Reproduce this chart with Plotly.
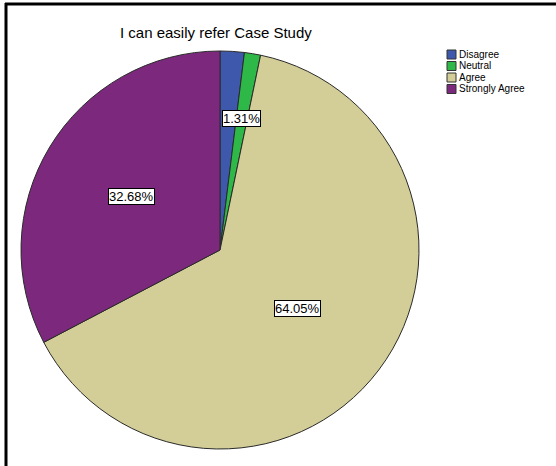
import math
import plotly.graph_objects as go

categories = ["Disagree", "Neutral", "Agree", "Strongly Agree"]
percentages = [1.96, 1.31, 64.05, 32.68]
colors = ["#3E58AC", "#2EB848", "#D3CE97", "#7C287D"]
show_label = [False, True, True, True]
label_radius = [0.67, 0.67, 0.49, 0.52]  # fraction of pie radius (style)

W, H = 556, 466
CX, CY, R = 220, 250, 199

fig = go.Figure(go.Pie(
    labels=categories,
    values=percentages,
    marker=dict(colors=colors, line=dict(color="#2a2a2a", width=1)),
    sort=False,
    direction="clockwise",
    rotation=0,
    textinfo="none",
    hoverinfo="label+percent",
    showlegend=False,
    domain=dict(x=[(CX - R) / W, (CX + R) / W], y=[1 - (CY + R) / H, 1 - (CY - R) / H]),
))

annotations = []
total = sum(percentages)
cum = 0.0
for cat, v, s, rf in zip(categories, percentages, show_label, label_radius):
    mid = (cum + v / 2) / total * 2 * math.pi
    cum += v
    if not s:
        continue
    px = CX + rf * R * math.sin(mid)
    py = CY - rf * R * math.cos(mid)
    annotations.append(dict(
        x=px / W, y=1 - py / H, xref="paper", yref="paper",
        xanchor="center", yanchor="middle",
        text=f"{v:.2f}%", showarrow=False,
        font=dict(family="Liberation Sans, Arial", size=13, color="black"),
        bgcolor="white", bordercolor="black", borderwidth=1, borderpad=0,
    ))

# title
annotations.append(dict(
    x=216 / W, y=1 - 33 / H, xref="paper", yref="paper",
    xanchor="center", yanchor="middle",
    text="I can easily refer Case Study", showarrow=False,
    font=dict(family="Liberation Sans, Arial", size=15, color="black"),
))

shapes = []
# legend drawn manually for compact spacing
LX, LY, LSTEP, SW = 447, 50, 11.5, 9
for i, (cat, col) in enumerate(zip(categories, colors)):
    y0 = LY + i * LSTEP
    shapes.append(dict(type="rect", xref="paper", yref="paper",
                       x0=LX / W, x1=(LX + SW) / W,
                       y0=1 - (y0 + SW) / H, y1=1 - y0 / H,
                       fillcolor=col, line=dict(color="#333333", width=1)))
    annotations.append(dict(
        x=(LX + SW + 1) / W, y=1 - (y0 + SW / 2) / H, xref="paper", yref="paper",
        xanchor="left", yanchor="middle", text=cat, showarrow=False,
        font=dict(family="Liberation Sans, Arial", size=10, color="black"),
    ))

# frame lines (top and left)
shapes.append(dict(type="line", xref="paper", yref="paper",
                   x0=5 / W, x1=1, y0=1 - 4 / H, y1=1 - 4 / H,
                   line=dict(color="black", width=3)))
shapes.append(dict(type="line", xref="paper", yref="paper",
                   x0=6 / W, x1=6 / W, y0=1 - 3 / H, y1=0,
                   line=dict(color="black", width=3)))

fig.update_layout(
    width=W, height=H,
    margin=dict(l=0, r=0, t=0, b=0),
    paper_bgcolor="white", plot_bgcolor="white",
    annotations=annotations, shapes=shapes,
)

fig.write_html("out.html")
